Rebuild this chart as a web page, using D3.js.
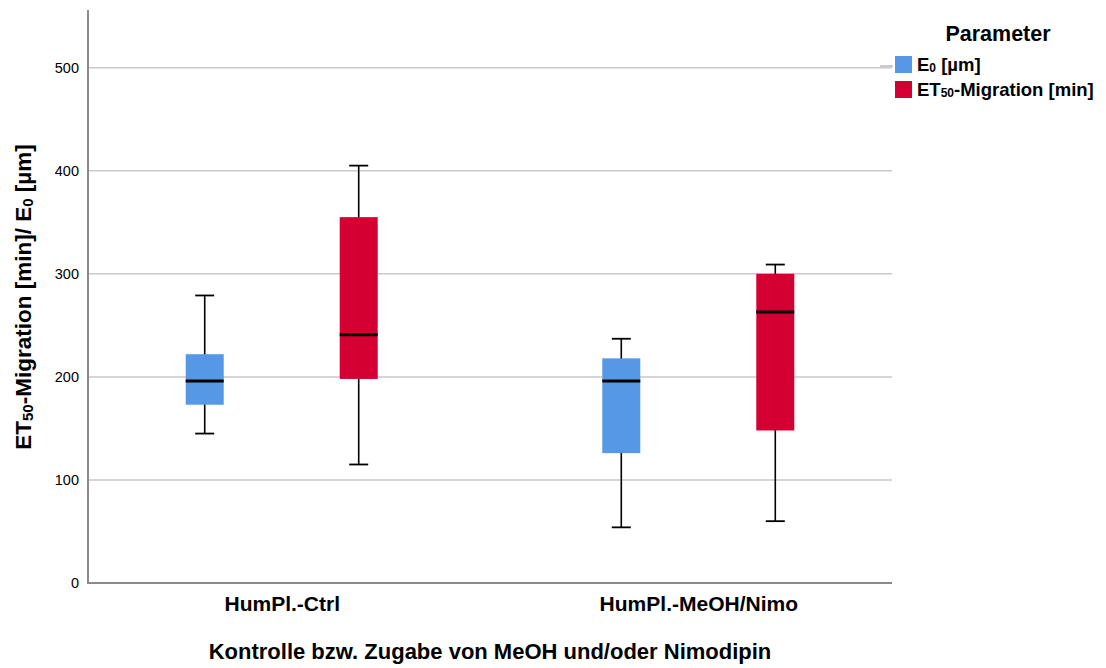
<!DOCTYPE html>
<html>
<head>
<meta charset="utf-8">
<script src="https://cdn.jsdelivr.net/npm/d3@7"></script>
<style>
  body { margin: 0; background: #fff; }
  text { font-family: "Liberation Sans", Arial, sans-serif; fill: #000; }
</style>
</head>
<body>
<div id="chart"></div>
<script>
// box plot values
var groups = ["HumPl.-Ctrl", "HumPl.-MeOH/Nimo"];
var series = ["E0", "ET50"];
var colors = ["#5698e4", "#d50032"];

// [whiskerLow, q1, median, q3, whiskerHigh] per group
var e0Stats = [
  [145, 173, 196, 222, 279],
  [54, 126, 196, 218, 237]
];
var et50Stats = [
  [115, 198, 241, 355, 405],
  [60, 148, 263, 300, 309]
];
var yTicks = [0, 100, 200, 300, 400, 500];

var width = 1106, height = 668;
var margin = { top: 10, right: 214, bottom: 85, left: 88 };

var svg = d3.select("#chart").append("svg")
    .attr("width", width)
    .attr("height", height);

var y = d3.scaleLinear()
    .domain([0, 556])
    .range([height - margin.bottom, margin.top]);

var x = d3.scalePoint()
    .domain(groups)
    .range([margin.left, width - margin.right])
    .padding(0.465);

var inner = d3.scalePoint()
    .domain(series)
    .range([-77, 77]);

var boxW = 38, capW = 19;

// gridlines
svg.append("g")
  .selectAll("line")
  .data(yTicks.filter(function(d) { return d > 0; }))
  .enter().append("line")
    .attr("x1", margin.left)
    .attr("x2", width - margin.right)
    .attr("y1", function(d) { return y(d); })
    .attr("y2", function(d) { return y(d); })
    .attr("stroke", "#c9c9c9")
    .attr("stroke-width", 1.5);

// y axis
var yAxis = svg.append("g")
    .attr("transform", "translate(" + margin.left + ",0)")
    .call(d3.axisLeft(y).tickValues(yTicks).tickSize(0).tickPadding(9));
yAxis.select(".domain").remove();
yAxis.selectAll("text")
    .style("font-family", "'Liberation Sans', Arial, sans-serif")
    .style("font-size", "14.5px")
    .attr("fill", "#222");

svg.append("line")
    .attr("x1", margin.left).attr("x2", margin.left)
    .attr("y1", margin.top).attr("y2", y(0))
    .attr("stroke", "#8a8a8a").attr("stroke-width", 2);
svg.append("line")
    .attr("x1", margin.left - 1).attr("x2", width - margin.right)
    .attr("y1", y(0)).attr("y2", y(0))
    .attr("stroke", "#8a8a8a").attr("stroke-width", 2);

// x axis labels
var xAxis = svg.append("g")
    .attr("transform", "translate(0," + y(0) + ")")
    .call(d3.axisBottom(x).tickSize(0).tickPadding(13));
xAxis.select(".domain").remove();
xAxis.selectAll("text")
    .style("font-family", "'Liberation Sans', Arial, sans-serif")
    .style("font-size", "21px")
    .style("font-weight", "bold")
    .attr("fill", "#111");

// boxes
var allStats = [e0Stats, et50Stats];
var boxes = [];
series.forEach(function(s, si) {
  groups.forEach(function(g, gi) {
    boxes.push({ group: g, series: s, color: colors[si], v: allStats[si][gi] });
  });
});

var box = svg.append("g")
  .selectAll("g")
  .data(boxes)
  .enter().append("g")
    .attr("transform", function(d) { return "translate(" + (x(d.group) + inner(d.series)) + ",0)"; });

box.append("line")
    .attr("x1", 0).attr("x2", 0)
    .attr("y1", function(d) { return y(d.v[0]); })
    .attr("y2", function(d) { return y(d.v[4]); })
    .attr("stroke", "#000").attr("stroke-width", 1.6);
box.selectAll(".cap")
  .data(function(d) { return [d.v[0], d.v[4]]; })
  .enter().append("line")
    .attr("x1", -capW / 2).attr("x2", capW / 2)
    .attr("y1", function(v) { return y(v); })
    .attr("y2", function(v) { return y(v); })
    .attr("stroke", "#000").attr("stroke-width", 1.8);
box.append("rect")
    .attr("x", -boxW / 2)
    .attr("width", boxW)
    .attr("y", function(d) { return y(d.v[3]); })
    .attr("height", function(d) { return y(d.v[1]) - y(d.v[3]); })
    .attr("fill", function(d) { return d.color; });
box.append("line")
    .attr("x1", -boxW / 2).attr("x2", boxW / 2)
    .attr("y1", function(d) { return y(d.v[2]); })
    .attr("y2", function(d) { return y(d.v[2]); })
    .attr("stroke", "#000").attr("stroke-width", 3);

// axis titles
var yTitle = svg.append("text")
    .attr("transform", "translate(31,297) rotate(-90)")
    .attr("text-anchor", "middle")
    .style("font-size", "22.5px")
    .style("font-weight", "bold");
yTitle.append("tspan").text("ET");
yTitle.append("tspan").text("50").style("font-size", "15px").attr("dy", 2);
yTitle.append("tspan").text("-Migration [min]/ E").attr("dy", -2);
yTitle.append("tspan").text("0").style("font-size", "15px").attr("dy", 2);
yTitle.append("tspan").text(" [µm]").attr("dy", -2);

svg.append("text")
    .attr("x", 490)
    .attr("y", 659)
    .attr("text-anchor", "middle")
    .style("font-size", "22px")
    .style("font-weight", "bold")
    .attr("fill", "#111")
    .text("Kontrolle bzw. Zugabe von MeOH und/oder Nimodipin");

// legend
var legend = svg.append("g").attr("transform", "translate(895,0)");
legend.append("text")
    .attr("x", 103).attr("y", 41)
    .attr("text-anchor", "middle")
    .style("font-size", "21.5px")
    .style("font-weight", "bold")
    .text("Parameter");
legend.append("line")
    .attr("x1", -15).attr("x2", -2)
    .attr("y1", 66).attr("y2", 66)
    .attr("stroke", "#999").attr("stroke-width", 1);

var legendItems = [
  { color: colors[0], parts: [["E", 0], ["0", 1], [" [µm]", 0]] },
  { color: colors[1], parts: [["ET", 0], ["50", 1], ["-Migration [min]", 0]] }
];
var li = legend.selectAll(".item")
  .data(legendItems)
  .enter().append("g")
    .attr("transform", function(d, i) { return "translate(0," + (56 + i * 25) + ")"; });
li.append("rect")
    .attr("width", 17).attr("height", 17)
    .attr("fill", function(d) { return d.color; });
var lt = li.append("text")
    .attr("x", 22).attr("y", 15)
    .style("font-size", "18.5px")
    .style("font-weight", "bold");
lt.selectAll("tspan")
  .data(function(d) { return d.parts; })
  .enter().append("tspan")
    .text(function(p) { return p[0]; })
    .style("font-size", function(p) { return p[1] ? "12px" : "18.5px"; })
    .attr("dy", function(p, i) { return i === 0 ? 0 : (p[1] ? 1 : -1); });
</script>
</body>
</html>
